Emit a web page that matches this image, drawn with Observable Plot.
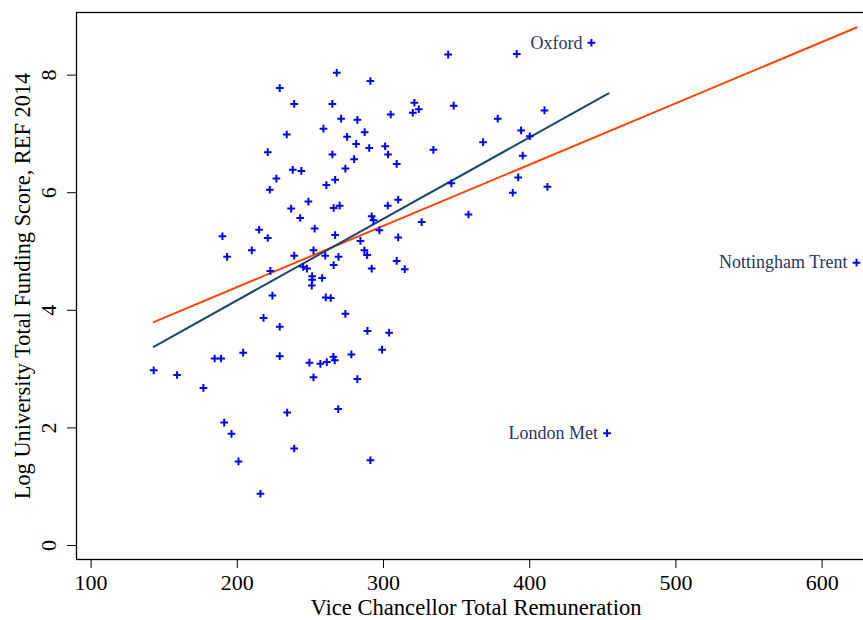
<!DOCTYPE html>
<html>
<head>
<meta charset="utf-8">
<script src="https://cdn.jsdelivr.net/npm/d3@7"></script>
<script src="https://cdn.jsdelivr.net/npm/@observablehq/plot@0.6"></script>
<style>
  html, body { margin: 0; padding: 0; background: #fff; overflow: hidden; }
  #wrap { width: 863px; height: 620px; overflow: hidden; }
  #wrap svg { display: block; max-width: none !important; width: 875px !important; height: 620px !important; }
</style>
</head>
<body>
<div id="wrap"></div>
<script>
// Vice Chancellor total remuneration (£000) and log REF 2014 total funding score
const vcPay = [
  229.0, 238.9, 233.8, 220.8, 237.9, 243.8, 226.7, 222.2, 248.6, 236.8,
  344.2, 268.0, 291.0, 265.0, 321.1, 320.0, 324.1, 348.0, 304.9, 271.0,
  282.1, 258.9, 287.1, 275.1, 281.3, 265.0, 290.2, 301.1, 303.1, 279.9,
  334.1, 309.0, 273.9, 266.9, 260.9, 346.4, 265.9, 270.0, 302.9, 310.0,
  442.2, 391.1, 410.1, 378.1, 394.1, 400.0, 368.1, 395.2, 392.1, 412.1,
  388.4, 243.0, 189.8, 214.9, 220.8, 193.0, 209.9, 238.9, 222.6, 245.0,
  247.7, 224.0, 217.9, 229.0, 184.5, 188.9, 204.0, 229.0, 142.8, 158.8,
  249.3, 358.1, 291.9, 293.1, 252.9, 326.1, 297.2, 266.9, 310.0, 284.2,
  252.1, 286.9, 288.8, 260.1, 269.2, 265.9, 309.0, 314.5, 291.9, 251.2,
  251.2, 258.0, 250.9, 260.5, 263.9, 273.9, 289.0, 303.8, 299.0, 278.0,
  265.7, 266.6, 256.8, 261.2, 252.1, 282.1, 176.8, 234.1, 269.0, 191.0,
  196.0, 238.9, 291.0, 200.8, 215.8, 452.9, 623.5
];
const refScore = [
  7.78, 7.51, 6.99, 6.69, 6.39, 6.37, 6.24, 6.05, 5.85, 5.73,
  8.35, 8.04, 7.90, 7.51, 7.53, 7.36, 7.42, 7.48, 7.33, 7.26,
  7.24, 7.09, 7.03, 6.95, 6.83, 6.65, 6.76, 6.79, 6.65, 6.57,
  6.73, 6.49, 6.41, 6.22, 6.13, 6.16, 5.74, 5.78, 5.78, 5.88,
  8.55, 8.36, 7.40, 7.26, 7.06, 6.96, 6.86, 6.63, 6.26, 6.10,
  6.00, 5.57, 5.26, 5.37, 5.23, 4.91, 5.02, 4.93, 4.67, 4.74,
  4.71, 4.25, 3.87, 3.72, 3.18, 3.18, 3.28, 3.22, 2.98, 2.90,
  3.11, 5.63, 5.60, 5.53, 5.39, 5.50, 5.36, 5.28, 5.24, 5.18,
  5.02, 5.02, 4.94, 4.93, 4.91, 4.77, 4.84, 4.70, 4.71, 4.58,
  4.52, 4.55, 4.42, 4.22, 4.21, 3.94, 3.65, 3.62, 3.33, 3.25,
  3.21, 3.15, 3.09, 3.12, 2.86, 2.83, 2.68, 2.26, 2.32, 2.09,
  1.90, 1.65, 1.45, 1.43, 0.88, 1.91, 4.81
];

// Labelled institutions
const labelNames = ["Oxford", "London Met", "Nottingham Trent"];
const labelX = [442.2, 452.9, 623.5];
const labelY = [8.55, 1.91, 4.81];

// Fitted lines (end points): all universities / excluding Nottingham Trent
const fitAllX = [142.8, 623.5];
const fitAllY = [3.80, 8.81];
const fitSubX = [142.8, 453.9];
const fitSubY = [3.38, 7.69];

// Axes
const xTicks = [100, 200, 300, 400, 500, 600];
const yTicks = [0, 2, 4, 6, 8];
const xLabel = "Vice Chancellor Total Remuneration";
const yLabel = "Log University Total Funding Score, REF 2014";

const points = vcPay.map((x, i) => ({x, y: refScore[i]}));
const labels = labelNames.map((name, i) => ({name, x: labelX[i], y: labelY[i]}));
const fitAll = fitAllX.map((x, i) => ({x, y: fitAllY[i]}));
const fitSub = fitSubX.map((x, i) => ({x, y: fitSubY[i]}));

const serif = "'Liberation Serif', 'Times New Roman', serif";

const chart = Plot.plot({
  width: 875,
  height: 620,
  marginLeft: 76,
  marginRight: 0,
  marginTop: 12,
  marginBottom: 61,
  style: {fontFamily: serif, fontSize: "22px", color: "black", background: "white", maxWidth: "none"},
  x: {domain: [90, 636.5]},
  y: {domain: [-0.238, 9.065]},
  marks: [
    Plot.line(fitAll, {x: "x", y: "y", stroke: "#ff4500", strokeWidth: 2}),
    Plot.line(fitSub, {x: "x", y: "y", stroke: "#1a476f", strokeWidth: 2}),
    Plot.dot(points, {x: "x", y: "y", symbol: "plus", r: 2.6, stroke: "#0000ff", strokeWidth: 2}),
    Plot.text(labels, {x: "x", y: "y", text: "name", textAnchor: "end", dx: -9, fill: "#26375f", fontSize: 18, fontFamily: serif}),
    Plot.axisX({ticks: xTicks, tickSize: 9, tickPadding: 6, fontSize: 22, label: null}),
    Plot.axisX({ticks: [], tickSize: 0, fontSize: 22.6, label: xLabel, labelAnchor: "center", labelOffset: 55, labelArrow: "none"}),
    Plot.axisY({ticks: yTicks, tickSize: 9, tickPadding: 12, tickRotate: -90, fontSize: 22, label: null}),
    Plot.axisY({ticks: [], tickSize: 0, fontSize: 22.4, label: yLabel, labelAnchor: "center", labelOffset: 62, labelArrow: "none"}),
    Plot.frame({stroke: "black", strokeWidth: 1.3})
  ]
});
document.getElementById("wrap").appendChild(chart);
</script>
</body>
</html>
